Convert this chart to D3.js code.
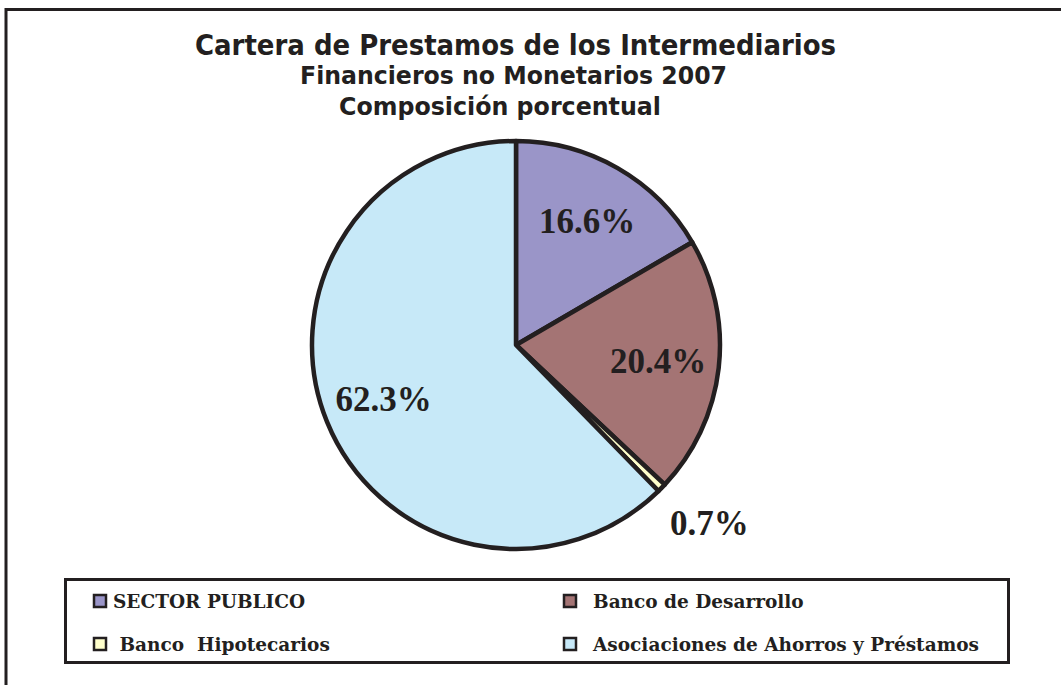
<!DOCTYPE html>
<html lang="es">
<head>
<meta charset="utf-8">
<title>Cartera de Prestamos</title>
<script src="https://d3js.org/d3.v7.min.js"></script>
<style>
  body { margin: 0; background: #fff; }
  svg { display: block; }
</style>
</head>
<body>
<div id="chart"></div>
<script>
// data
var categories = ["SECTOR PUBLICO", "Banco de Desarrollo", " Banco  Hipotecarios", "Asociaciones de Ahorros y Préstamos"];
var values = [16.6, 20.4, 0.7, 62.3];
var pctLabels = ["16.6%", "20.4%", "0.7%", "62.3%"];
var colors = ["#9a95c8", "#a47474", "#ffffcc", "#c7e9f8"];
var titleLines = ["Cartera de Prestamos de los Intermediarios", "Financieros no Monetarios 2007", "Composición porcentual"];

var width = 1061, height = 685;
var ink = "#231f20";

var svg = d3.select("#chart").append("svg")
    .attr("width", width)
    .attr("height", height);

// frame (top + left lines only are visible)
svg.append("line").attr("x1", 6).attr("y1", 9.5).attr("x2", width).attr("y2", 9.5)
    .attr("stroke", ink).attr("stroke-width", 3);
svg.append("line").attr("x1", 6).attr("y1", 8).attr("x2", 6).attr("y2", height)
    .attr("stroke", ink).attr("stroke-width", 3);

// title (condensed bold look via textLength)
var titleSpec = [
    { x: 195, y: 55, size: 29, w: 641 },
    { x: 300, y: 84, size: 24.5, w: 427 },
    { x: 339, y: 115, size: 24.5, w: 322 }
];
svg.selectAll(".title").data(titleLines).enter().append("text")
    .attr("class", "title")
    .attr("x", function (d, i) { return titleSpec[i].x; })
    .attr("y", function (d, i) { return titleSpec[i].y; })
    .attr("textLength", function (d, i) { return titleSpec[i].w; })
    .attr("lengthAdjust", "spacingAndGlyphs")
    .style("font-family", "'DejaVu Sans', sans-serif")
    .style("font-weight", "bold")
    .style("font-size", function (d, i) { return titleSpec[i].size + "px"; })
    .attr("fill", ink)
    .text(function (d) { return d; });

// pie
var cx = 516, cy = 345, radius = 204;
var g = svg.append("g").attr("transform", "translate(" + cx + "," + cy + ")");

var pie = d3.pie().sort(null).value(function (d) { return d; });
var arcs = pie(values);
var arc = d3.arc().innerRadius(0).outerRadius(radius);
var labelArc = d3.arc().innerRadius(143).outerRadius(143);
var outerArc = d3.arc().innerRadius(254).outerRadius(254);

g.selectAll(".slice").data(arcs).enter().append("path")
    .attr("class", "slice")
    .attr("d", arc)
    .attr("fill", function (d, i) { return colors[i]; })
    .attr("stroke", ink)
    .attr("stroke-width", 4.5)
    .attr("stroke-linejoin", "round");

g.selectAll(".pct").data(arcs).enter().append("text")
    .attr("class", "pct")
    .attr("transform", function (d) {
        var small = d.data < 2;
        var c = (small ? outerArc : labelArc).centroid(d);
        if (small) c[0] += 12; // small slice label sits a little to the right
        return "translate(" + c + ")";
    })
    .attr("text-anchor", "middle")
    .attr("dy", "0.35em")
    .style("font-family", "'Liberation Serif', 'DejaVu Serif', serif")
    .style("font-weight", "bold")
    .style("font-size", "35px")
    .attr("fill", ink)
    .text(function (d, i) { return pctLabels[i]; });

// legend
svg.append("rect")
    .attr("x", 65.5).attr("y", 579.5)
    .attr("width", 943).attr("height", 83)
    .attr("fill", "#fff").attr("stroke", ink).attr("stroke-width", 3);

var colX = [93, 563], rowY = [594, 637];
var textX = [113, 593];
var leg = svg.selectAll(".leg").data(categories).enter().append("g").attr("class", "leg");
leg.append("rect")
    .attr("x", function (d, i) { return colX[i % 2] + 1; })
    .attr("y", function (d, i) { return rowY[Math.floor(i / 2)] + 1; })
    .attr("width", 12).attr("height", 12)
    .attr("fill", function (d, i) { return colors[i]; })
    .attr("stroke", ink).attr("stroke-width", 2.5);
leg.append("text")
    .attr("x", function (d, i) { return textX[i % 2]; })
    .attr("y", function (d, i) { return rowY[Math.floor(i / 2)] + 14; })
    .attr("xml:space", "preserve")
    .style("white-space", "pre")
    .style("font-family", "'DejaVu Serif', serif")
    .style("font-weight", "bold")
    .style("font-size", "18.5px")
    .attr("fill", ink)
    .text(function (d) { return d; });
</script>
</body>
</html>
